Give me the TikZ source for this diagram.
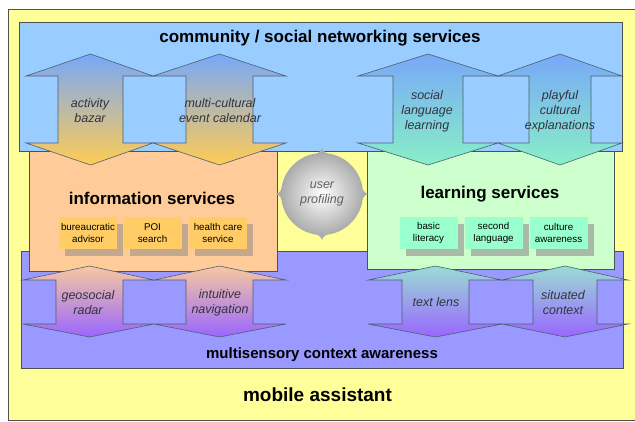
\documentclass[tikz,border=0pt]{standalone}
\usepackage{fontspec}
\setmainfont{Liberation Sans}
\usetikzlibrary{shadows}
\definecolor{bgyellow}{HTML}{FFFF99}
\definecolor{topblue}{HTML}{99CCFF}
\definecolor{infoorange}{HTML}{FFCC99}
\definecolor{learngreen}{HTML}{CCFFCC}
\definecolor{ctxpurple}{HTML}{9999FF}
\definecolor{edge}{HTML}{505050}
\definecolor{arredge}{HTML}{4F5E70}
\definecolor{arrblue}{HTML}{78A8F8}
\definecolor{arrgold}{HTML}{FFCC55}
\definecolor{arrmint}{HTML}{88F0C8}
\definecolor{arrpeach}{HTML}{F6C8A0}
\definecolor{arrcyan}{HTML}{99DCD4}
\definecolor{arrviolet}{HTML}{9966FF}
\definecolor{infosub}{HTML}{FFCC66}
\definecolor{infoshadow}{HTML}{C4A88E}
\definecolor{learnsub}{HTML}{99FFCC}
\definecolor{learnshadow}{HTML}{A9BBA8}
\definecolor{labelgrey}{HTML}{333340}
% double-headed vertical arrow: #1 style, #2 left wing, #3 shaft left, #4 tip x, #5 shaft right, #6 right wing
\newcommand\udarrow[6]{%
  \path[#1] (#2,\ya) -- (#4,\yt) -- (#6,\ya) -- (#5,\ya) -- (#5,\yb) -- (#6,\yb)
    -- (#4,\ybt) -- (#2,\yb) -- (#3,\yb) -- (#3,\ya) -- cycle;}
\begin{document}
\begin{tikzpicture}[x=1pt,y=-1pt,
  panel/.style={draw=edge,line width=0.9pt},
  arrowbody/.style={draw=arredge,line width=0.6pt},
  uplabel/.style={font=\itshape\fontsize{12.5}{15}\selectfont,text=labelgrey,align=center,inner sep=0pt},
  title/.style={font=\bfseries\fontsize{17}{20}\selectfont,inner sep=0pt},
  subbox/.style={minimum width=58pt,minimum height=32pt,inner sep=0pt,align=center,
    font=\fontsize{9.8}{12}\selectfont},
  infobox/.style={subbox,fill=infosub,
    drop shadow={shadow xshift=6pt,shadow yshift=-7pt,fill=infoshadow,opacity=1}},
  learnbox/.style={subbox,fill=learnsub,
    drop shadow={shadow xshift=6pt,shadow yshift=-7pt,fill=learnshadow,opacity=1}},
]
\useasboundingbox (0,0) rectangle (635,421);

% outer frame
\fill[bgyellow] (8,9) rectangle (635,420);
\draw[edge,line width=0.9pt] (635,9) -- (8,9) -- (8,420) -- (635,420);

% lower sensing layer
\path[panel,fill=ctxpurple] (21,251) rectangle (623,368);
% service blocks
\path[panel,fill=infoorange] (29,140) rectangle (277,271);
\path[panel,fill=learngreen] (367,140) rectangle (614,269);
% upper community layer
\path[panel,fill=topblue] (19,22) rectangle (622,151);

% titles
\node[title] (community) at (320,38) {community / social networking services};
\node[title] (info) at (152,198) {information services};
\node[title] (learn) at (490,194) {learning services};
\node[title,font=\bfseries\fontsize{15}{18}\selectfont] (context) at (322,355) {multisensory context awareness};
\node[title,font=\bfseries\fontsize{19}{22}\selectfont] (mobile) at (317.5,395) {mobile assistant};

% information sub-services
\node[infobox] (bureau) at (88,233) {bureaucratic\\advisor};
\node[infobox] (poi) at (152.5,233) {POI\\search};
\node[infobox] (health) at (218,233) {health care\\service};
% learning sub-services
\node[learnbox] (literacy) at (428.5,233) {basic\\literacy};
\node[learnbox] (second) at (493.5,233) {second\\language};
\node[learnbox] (culture) at (558.5,233) {culture\\awareness};

% upper exchange arrows
\def\yt{54}\def\ya{76}\def\yb{143}\def\ybt{165}
\udarrow{arrowbody,top color=arrblue,bottom color=arrgold}{26}{58}{90.5}{123}{153}
\udarrow{arrowbody,top color=arrblue,bottom color=arrgold}{153}{186}{219.5}{253}{286}
\udarrow{arrowbody,top color=arrblue,bottom color=arrmint}{358}{393}{428}{463}{498}
\udarrow{arrowbody,top color=arrblue,bottom color=arrmint}{498}{529}{560}{591}{622}

% lower exchange arrows
\def\yt{266}\def\ya{280}\def\yb{324}\def\ybt{337}
\udarrow{arrowbody,top color=arrpeach,bottom color=arrviolet}{23}{56}{89.5}{123}{154}
\udarrow{arrowbody,top color=arrpeach,bottom color=arrviolet}{154}{186}{219.5}{253}{286}
\udarrow{arrowbody,top color=arrcyan,bottom color=arrviolet}{368}{402}{435.5}{469}{502}
\udarrow{arrowbody,top color=arrcyan,bottom color=arrviolet}{502}{533}{565}{597}{628}

% arrow labels
\node[uplabel] (bazar) at (90,110.5) {activity\\bazar};
\node[uplabel] (calendar) at (220,110.5) {multi-cultural\\event calendar};
\node[uplabel] (social) at (427,111) {social\\language\\learning};
\node[uplabel] (playful) at (560,111) {playful\\cultural\\explanations};
\node[uplabel] (radar) at (88,302.5) {geosocial\\radar};
\node[uplabel] (navigation) at (220,302.5) {intuitive\\navigation};
\node[uplabel] (lens) at (436,302) {text lens};
\node[uplabel] (situated) at (563,302.5) {situated\\context};

% user profiling hub: four spikes under a shaded disc
\foreach \r in {0,90,180,270}{
  \begin{scope}[shift={(322,194)},rotate=\r]
    \fill[black!33] (0,-46) .. controls (-1,-42) and (-5,-40) .. (-11,-38)
      -- (0,-28) -- (11,-38) .. controls (5,-40) and (1,-42) .. (0,-46) -- cycle;
  \end{scope}
}
\shade[inner color=white,outer color=black!33] (322,194) circle[radius=41];
\node[uplabel,text=black!62] (profiling) at (322,194) {user\\profiling};
\end{tikzpicture}
\end{document}
